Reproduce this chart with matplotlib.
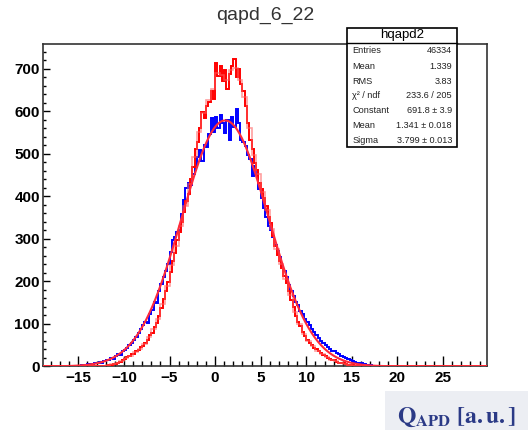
import numpy as np
import matplotlib
matplotlib.use('Agg')
import matplotlib.pyplot as plt
from matplotlib.patches import Rectangle
from matplotlib.ticker import MultipleLocator

plt.rcParams['font.family'] = ['Liberation Sans', 'DejaVu Sans']
plt.rcParams['mathtext.fontset'] = 'stix'

# histogram binning (ROOT style, fixed width bins)
hist_lo, hist_hi = -19.0, 30.0
bin_w = 0.25
coarse_w = 0.5

# blue histogram, bins of 0.25 starting at -16
blue_start = -16.0
blue_counts = [
    1, 0, 2, 1,   2, 3, 1, 4,   5, 3, 6, 8,   7, 11, 9, 13,
    15, 14, 20, 18,   24, 29, 27, 35,   38, 44, 50, 56,   62, 68, 79, 88,
    97, 104, 102, 123,   132, 151, 148, 176,   194, 209, 224, 240,   268, 297, 305, 316,
    321, 358, 392, 419,   431, 426, 452, 468,   493, 508, 482, 521,   516, 547, 583, 552,
    585, 561, 590, 572,   548, 579, 531, 586,   562, 604, 571, 533,   528, 518, 496, 488,
    447, 470, 452, 418,   395, 372, 351, 331,   320, 303, 286, 270,   258, 236, 224, 209,
    192, 178, 166, 152,   144, 131, 122, 112,   104, 97, 88, 80,   74, 67, 60, 55,
    50, 45, 41, 37,   36, 31, 28, 25,   23, 19, 17, 15,   13, 11, 9, 8,
    7, 6, 4, 4,   3, 2, 2, 1,   1, 1, 0, 1,
]

# red histogram, bins of 0.25 starting at -13
red_start = -13.0
red_counts = [
    0, 1, 1, 2,   2, 3, 4, 5,   6, 9, 11, 15,   17, 21, 24, 28,
    30, 36, 39, 45,   47, 56, 61, 73,   78, 92, 101, 118,   136, 158, 177, 199,
    221, 248, 266, 297,   316, 340, 362, 389,   405, 441, 468, 512,   528, 561, 597, 583,
    611, 622, 648, 629,   713, 682, 705, 671,   697, 652, 688, 706,   722, 681, 698, 663,
    648, 611, 572, 531,   512, 478, 461, 432,   418, 396, 377, 351,   338, 306, 283, 262,
    248, 231, 212, 196,   178, 156, 139, 118,   104, 94, 81, 71,   63, 55, 50, 44,
    40, 35, 31, 27,   24, 20, 18, 15,   14, 11, 9, 7,   7, 5, 4, 3,
    3, 2, 1, 1,
]

# light red histogram, bins of 0.5 starting at -13
pink_start = -13.0
pink_counts = [
    1, 2, 3, 5, 8, 13, 19, 25, 33, 41, 52, 68, 88, 112, 147, 189,
    238, 284, 331, 378, 428, 492, 551, 596, 625, 652, 690, 684, 672, 697,
    701, 672, 634, 560, 497, 451, 409, 367, 322, 275, 240, 205, 168, 127,
    99, 77, 59, 47, 37, 29, 22, 16, 12, 8, 6, 4, 2, 1,
]

# gaussian fit drawn over the blue histogram
fit_const, fit_mean, fit_sigma = 578.0, 1.1, 4.75

# stats box
stats_title = 'hqapd2'
stats_names = ['Entries', 'Mean', 'RMS', 'χ² / ndf', 'Constant', 'Mean', 'Sigma']
stats_values = ['46334', '1.339', '3.83', '233.6 / 205', '691.8 ± 3.9',
                '1.341 ± 0.018', '3.799 ± 0.013']


def full_hist(start, counts, width):
    edges = np.arange(hist_lo, hist_hi + width / 2, width)
    vals = np.zeros(len(edges) - 1)
    i0 = int(round((start - hist_lo) / width))
    vals[i0:i0 + len(counts)] = counts
    return edges, vals


fig = plt.figure(figsize=(5.28, 4.3), dpi=100)
ax = fig.add_axes([0.081, 0.148, 0.841, 0.750])

e, v = full_hist(blue_start, blue_counts, bin_w)
ax.stairs(v, e, color='#0000ff', lw=1.4, zorder=2)
e, v = full_hist(red_start, red_counts, bin_w)
ax.stairs(v, e, color='#ff0000', lw=1.4, zorder=3)
e, v = full_hist(pink_start, pink_counts, coarse_w)
ax.stairs(v, e, color='#ff6060', lw=1.2, alpha=0.6, zorder=4)

xf = np.linspace(hist_lo, hist_hi, 600)
yf = fit_const * np.exp(-0.5 * ((xf - fit_mean) / fit_sigma) ** 2)
ax.plot(xf, yf, color='#ff2a3a', lw=1.5, zorder=5)

ax.set_xlim(-18.9, 29.8)
ax.set_ylim(0, 758)

ax.xaxis.set_major_locator(MultipleLocator(5))
ax.xaxis.set_minor_locator(MultipleLocator(1))
ax.yaxis.set_major_locator(MultipleLocator(100))
ax.yaxis.set_minor_locator(MultipleLocator(20))
ax.set_xticks([-15, -10, -5, 0, 5, 10, 15, 20, 25])
ax.tick_params(axis='x', which='major', direction='in', length=7, width=1, pad=3,
               labelsize=11, colors='black')
ax.tick_params(axis='x', which='minor', direction='in', length=3.5, width=1)
ax.tick_params(axis='y', which='major', direction='in', length=5, width=1, pad=2,
               labelsize=11)
ax.tick_params(axis='y', which='minor', direction='in', length=2.5, width=1)
for lab in ax.get_xticklabels() + ax.get_yticklabels():
    lab.set_fontweight('bold')
for s in ax.spines.values():
    s.set_color('#333333')
    s.set_linewidth(1.2)

fig.text(0.502, 0.965, 'qapd_6_22', ha='center', va='center', fontsize=14, color='#333333')

# stats box on top of the frame
bx0, bx1 = 346.8 / 528, 457.2 / 528
by0, by1 = 1 - 147 / 430, 1 - 28 / 430
fig.patches.append(Rectangle((bx0, by0), bx1 - bx0, by1 - by0, transform=fig.transFigure,
                             facecolor='white', edgecolor='black', lw=1.2, zorder=5))
sep = 1 - 42.8 / 430
fig.lines.append(plt.Line2D([bx0, bx1], [sep, sep], transform=fig.transFigure,
                            color='black', lw=1.0, zorder=6))
fig.text((bx0 + bx1) / 2, 1 - 35.3 / 430, stats_title, ha='center', va='center',
         fontsize=9.5, zorder=7)
row_y = [50.5, 66.3, 81.1, 95.6, 110.8, 125.6, 140.4]
for name, val, ry in zip(stats_names, stats_values, row_y):
    fig.text(352.5 / 528, 1 - ry / 430, name, ha='left', va='center', fontsize=6.6,
             color='#222222', zorder=7)
    fig.text(451.9 / 528, 1 - ry / 430, val, ha='right', va='center', fontsize=6.6,
             color='#222222', zorder=7)

# axis title box at bottom right
fig.patches.append(Rectangle((385 / 528, 0), 1 - 385 / 528, 39 / 430, transform=fig.transFigure,
                             facecolor='#eceef3', edgecolor='none', zorder=1))
fig.text(397 / 528, 1 - 423 / 430, r'$\mathbf{Q_{APD}\ [a.u.]}$', ha='left', va='baseline',
         fontsize=17, color='#2b3a86', zorder=7)

fig.savefig('out.png', dpi=100)
